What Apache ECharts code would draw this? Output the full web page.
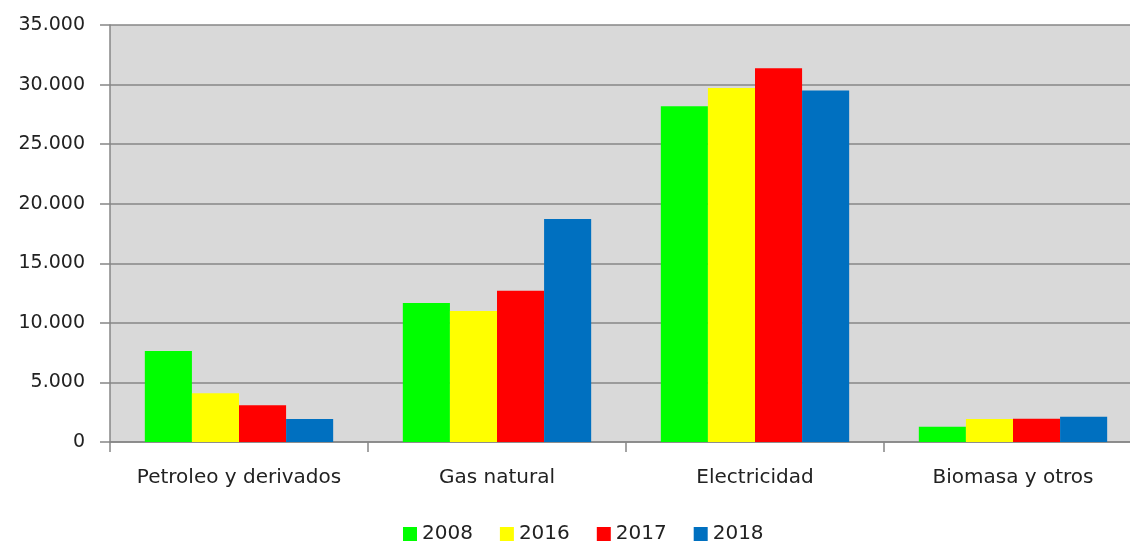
<!DOCTYPE html>
<html>
<head>
<meta charset="utf-8">
<script src="https://cdn.jsdelivr.net/npm/echarts@6/dist/echarts.min.js"></script>
<style>
  html, body { margin: 0; padding: 0; background: #fff; overflow: hidden; }
  /* el área del gráfico sigue un poco más allá del borde derecho */
  #chart { width: 1142px; height: 543px; }
</style>
</head>
<body>
<div id="chart"></div>
<script>
// categorias y valores por año
var categories = ['Petroleo y derivados', 'Gas natural', 'Electricidad', 'Biomasa y otros'];
var years = ['2008', '2016', '2017', '2018'];
var colors = ['#00FF00', '#FFFF00', '#FF0000', '#0070C0'];

var values2008 = [7630, 11660, 28170, 1280];
var values2016 = [4100, 11000, 29710, 1920];
var values2017 = [3090, 12700, 31360, 1950];
var values2018 = [1920, 18720, 29510, 2120];

var yTicks = { min: 0, max: 35000, interval: 5000 };

var seriesValues = [values2008, values2016, values2017, values2018];

var myChart = echarts.init(document.getElementById('chart'));

var series = years.map(function (y, i) {
  return {
    name: y,
    type: 'bar',
    data: seriesValues[i],
    barGap: '0%',
    barCategoryGap: '27%',
    itemStyle: { color: colors[i] },
    animation: false
  };
});

myChart.setOption({
  textStyle: { fontFamily: 'DejaVu Sans', color: '#222' },
  color: colors,
  grid: {
    left: 110,
    right: 0,
    top: 25,
    bottom: 101,
    show: true,
    backgroundColor: '#D9D9D9',
    borderWidth: 0
  },
  legend: {
    data: years,
    top: 519,
    left: 398,
    icon: 'rect',
    itemWidth: 14,
    itemHeight: 14,
    itemGap: 27,
    textStyle: { fontSize: 20, color: '#222', fontFamily: 'DejaVu Sans' }
  },
  xAxis: {
    type: 'category',
    data: categories,
    axisLine: { lineStyle: { color: '#868686', width: 1.5 } },
    axisTick: { show: true, interval: 0, length: 10, lineStyle: { color: '#868686', width: 1.5 } },
    axisLabel: { interval: 0, fontSize: 20, color: '#222', margin: 26 }
  },
  yAxis: {
    type: 'value',
    min: yTicks.min,
    max: yTicks.max,
    interval: yTicks.interval,
    axisLine: { show: true, lineStyle: { color: '#868686', width: 1.5 } },
    axisTick: { show: true, length: 10, lineStyle: { color: '#868686', width: 1.5 } },
    splitLine: { lineStyle: { color: '#868686', width: 1.5 } },
    axisLabel: {
      fontSize: 19,
      color: '#222',
      margin: 25,
      formatter: function (v) {
        return v === 0 ? '0' : String(v).replace(/\B(?=(\d{3})+(?!\d))/g, '.');
      }
    }
  },
  series: series
});
</script>
</body>
</html>
